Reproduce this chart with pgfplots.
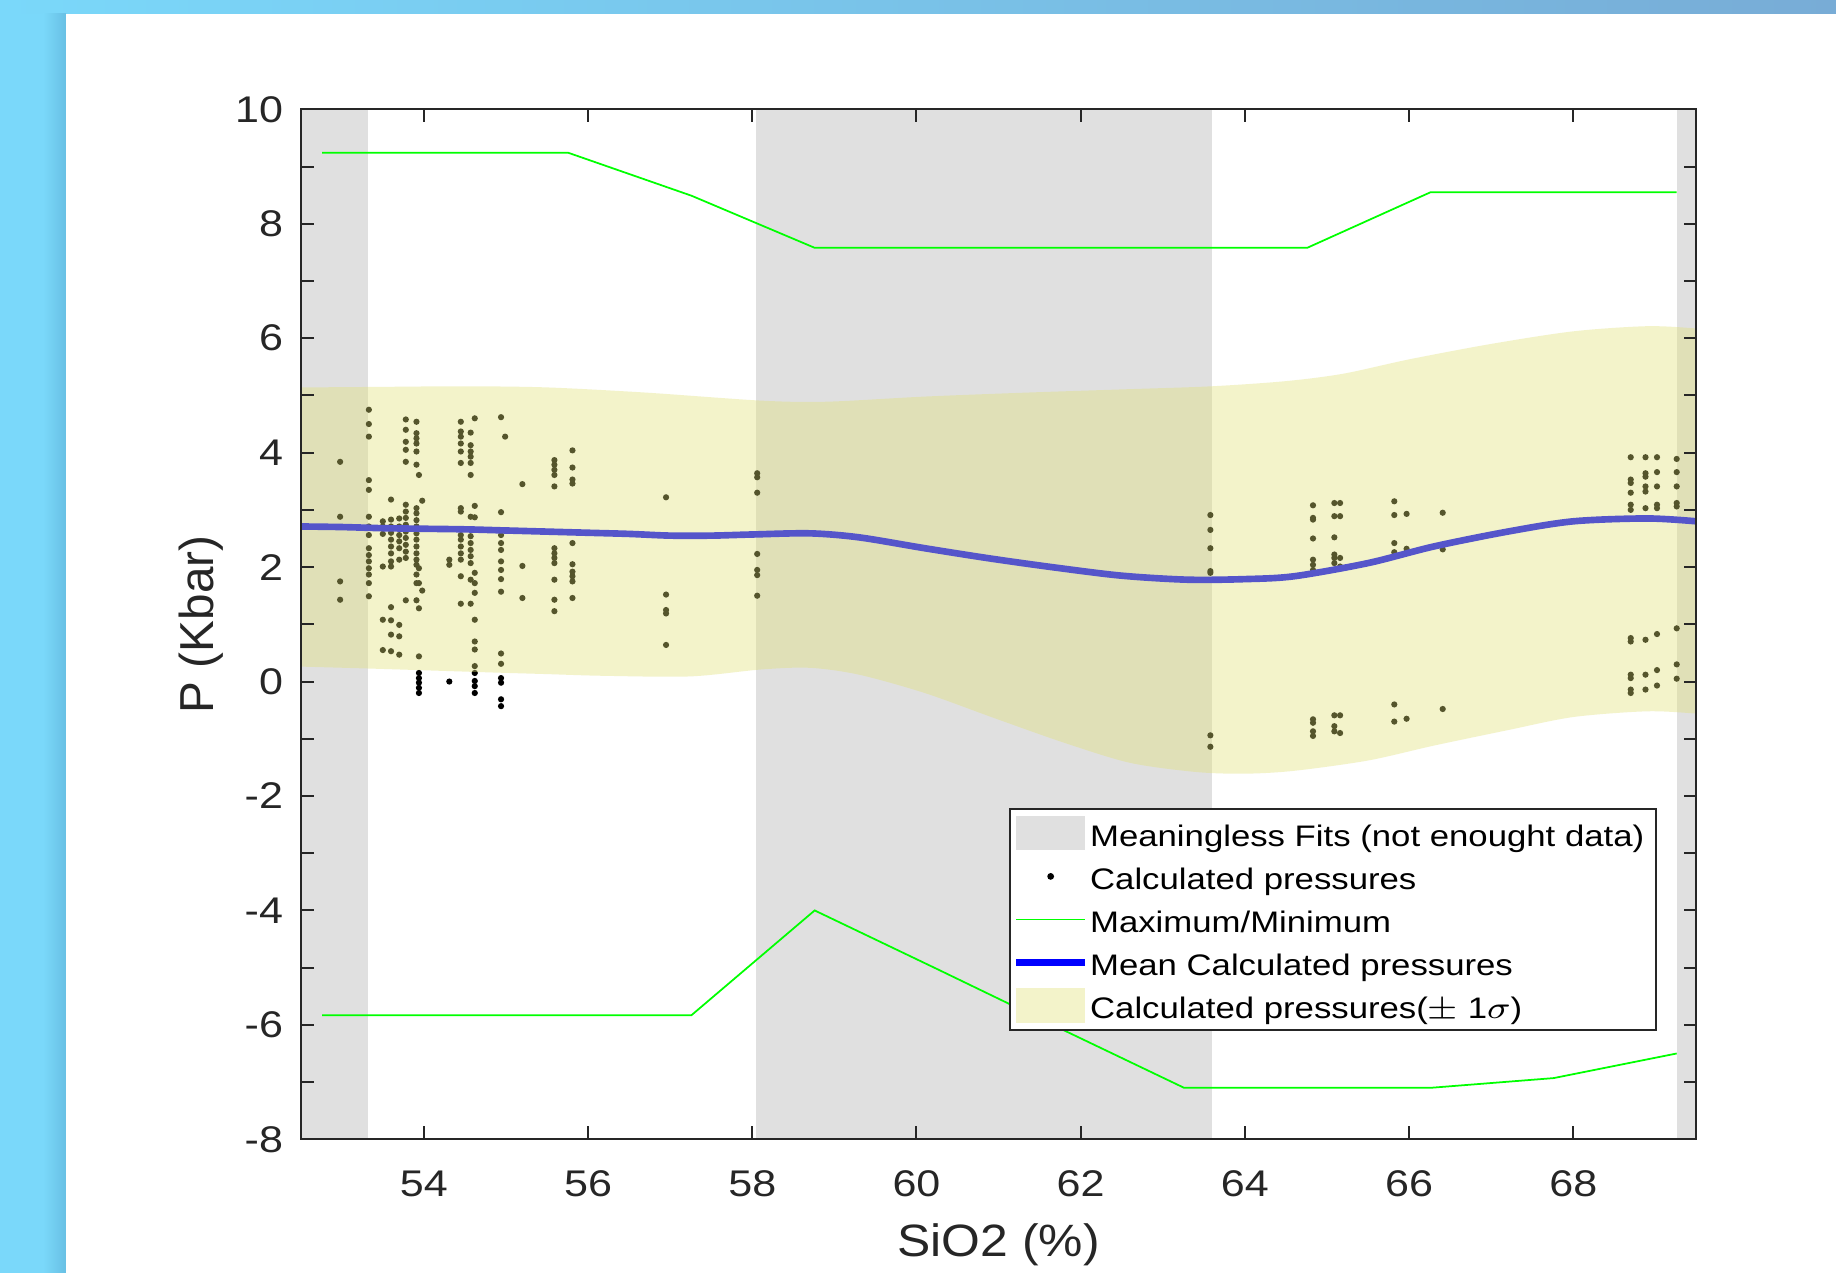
\documentclass[border=0pt]{standalone}
\usepackage{fontspec}
\setmainfont{Liberation Sans}
\usepackage{graphicx}
\usepackage{pgfplots}
\pgfplotsset{compat=1.18}
\definecolor{bgblue}{RGB}{122,216,250}
\definecolor{bgblue2}{RGB}{120,172,214}
\definecolor{bgshade}{RGB}{104,192,228}
\definecolor{axcol}{RGB}{38,38,38}
\definecolor{grayc}{RGB}{224,224,224}
\definecolor{bandc}{RGB}{224,224,118}
\definecolor{mgreen}{RGB}{0,255,0}
\definecolor{mblue}{RGB}{0,0,255}
\newcommand{\sx}[1]{\scalebox{1.16}[1]{#1}}
\newcommand{\lx}[1]{\scalebox{1.17}[1]{#1}}
\begin{document}
\begin{tikzpicture}[x=1pt,y=1pt]
\useasboundingbox (0,0) rectangle (470,325.86);
\fill[bgblue] (0,0) rectangle (470,325.86);
\shade[left color=bgblue, right color=bgblue2] (0,322.28) rectangle (470,325.86);
\shade[left color=bgblue, right color=bgshade] (11,0) rectangle (16.9,322.28);
\fill[white] (16.9,0) rectangle (470,322.28);
\begin{axis}[
  at={(76.98pt,34.2pt)}, anchor=south west,
  scale only axis, width=357.28pt, height=263.67pt,
  xmin=52.5, xmax=69.5, ymin=-8, ymax=10,
  xtick={54,56,...,68}, ytick={-8,-6,...,10},
  minor y tick num=1,
  tick align=inside,
  axis on top,
  clip marker paths=true,
  major tick length=3.3pt, minor tick length=3.3pt,
  axis line style={axcol, line width=0.5pt},
  every tick/.style={axcol, line width=0.5pt},
  /pgf/number format/assume math mode=true,
  tick label style={font=\fontsize{9.5}{11}\selectfont, text=axcol},
  xticklabel={\sx{\pgfmathprintnumber{\tick}}},
  yticklabel={\sx{\pgfmathprintnumber{\tick}}},
  xticklabel style={yshift=-4.5pt},
  yticklabel style={xshift=-1pt},
  xlabel={\scalebox{1.1}[1]{SiO2 (\%)}},
  ylabel={P (Kbar)},
  xlabel style={at={(axis description cs:0.5,-0.1024)}, anchor=center, font=\fontsize{11.6}{13}\selectfont, text=axcol},
  ylabel style={at={(axis description cs:-0.0714,0.5)}, anchor=center, font=\fontsize{12.2}{14}\selectfont, text=axcol},
  legend style={
    at={(0.5078,0.322)}, anchor=north west,
    draw=axcol, line width=0.5pt, fill=white,
    inner xsep=0.6pt, inner ysep=0.8pt,
    row sep=0pt, column sep=0.4pt,
    font=\fontsize{7.6}{9}\selectfont,
    nodes={inner sep=0pt, text height=8.9pt, text depth=2.13pt},
  },
  legend cell align=left,
]
% meaningless-fit regions
\addplot[fill=grayc, draw=none,
  legend image code/.code={\fill[grayc] (0pt,-4.4pt) rectangle (17.7pt,4.4pt);}]
  coordinates {(52.5,-8) (53.32,-8) (53.32,10) (52.5,10)} -- cycle;
\addlegendentry{\lx{Meaningless Fits (not enought data)}\rule{2.4pt}{0pt}}
\addplot[fill=grayc, draw=none, forget plot]
  coordinates {(58.05,-8) (63.6,-8) (63.6,10) (58.05,10)} -- cycle;
\addplot[fill=grayc, draw=none, forget plot]
  coordinates {(69.26,-8) (69.5,-8) (69.5,10) (69.26,10)} -- cycle;
% calculated pressures
\addplot[only marks, mark=*, mark size=0.58pt, black,
  legend image code/.code={\fill[black] (8.85pt,0pt) circle (0.6pt);}]
  coordinates {
(52.98,3.84)(52.98,2.88)(52.98,1.75)(52.98,1.43)
(53.33,4.75)(53.33,4.50)(53.33,4.28)(53.33,3.52)(53.33,3.35)(53.33,2.88)(53.33,2.71)(53.33,2.56)(53.33,2.33)(53.33,2.21)(53.33,2.10)(53.33,1.98)(53.33,1.87)(53.33,1.72)(53.33,1.49)
(53.50,2.80)(53.50,2.71)(53.50,2.58)(53.50,2.01)(53.50,1.08)(53.50,0.55)
(53.60,3.18)(53.60,2.83)(53.60,2.71)(53.60,2.60)(53.60,2.48)(53.60,2.36)(53.60,2.24)(53.60,2.10)(53.60,2.01)(53.60,1.30)(53.60,1.07)(53.60,0.82)(53.60,0.53)
(53.70,2.85)(53.70,2.71)(53.70,2.56)(53.70,2.45)(53.70,2.33)(53.70,2.13)(53.70,0.99)(53.70,0.79)(53.70,0.47)
(53.78,4.58)(53.78,4.40)(53.78,4.19)(53.78,4.05)(53.78,3.84)(53.78,3.09)(53.78,2.97)(53.78,2.86)(53.78,2.74)(53.78,2.62)(53.78,2.51)(53.78,2.39)(53.78,2.27)(53.78,2.16)(53.78,1.42)
(53.91,4.54)(53.91,4.34)(53.91,4.25)(53.91,4.16)(53.91,4.02)(53.91,3.79)(53.91,3.03)(53.91,2.94)(53.91,2.82)(53.91,2.71)(53.91,2.59)(53.91,2.48)(53.91,2.36)(53.91,2.24)(53.91,2.13)(53.91,2.04)(53.91,1.87)(53.91,1.72)(53.91,1.42)
(53.94,3.61)(53.94,1.98)(53.94,1.72)(53.94,1.28)(53.94,0.44)(53.94,0.15)(53.94,0.06)(53.94,-0.02)(53.94,-0.11)(53.94,-0.20)
(53.98,3.16)(53.98,1.59)
(54.31,2.13)(54.31,2.04)(54.31,0.00)
(54.45,4.54)(54.45,4.37)(54.45,4.28)(54.45,4.16)(54.45,4.02)(54.45,3.82)(54.45,3.03)(54.45,2.97)(54.45,2.56)(54.45,2.48)(54.45,2.36)(54.45,2.24)(54.45,2.13)(54.45,1.84)(54.45,1.36)
(54.57,4.35)(54.57,4.13)(54.57,4.02)(54.57,3.93)(54.57,3.82)(54.57,3.61)(54.57,2.88)(54.57,2.54)(54.57,2.42)(54.57,2.30)(54.57,2.19)(54.57,2.07)(54.57,1.78)(54.57,1.36)
(54.62,4.60)(54.62,3.07)(54.62,2.87)(54.62,1.90)(54.62,1.72)(54.62,1.55)(54.62,1.08)(54.62,0.70)(54.62,0.56)(54.62,0.27)(54.62,0.15)(54.62,0.01)(54.62,-0.08)(54.62,-0.20)
(54.94,4.62)(54.94,2.96)(54.94,2.56)(54.94,2.42)(54.94,2.30)(54.94,2.10)(54.94,1.95)(54.94,1.79)(54.94,1.57)(54.94,0.49)(54.94,0.31)(54.94,0.06)(54.94,-0.02)(54.94,-0.31)(54.94,-0.43)
(54.99,4.28)
(55.20,3.45)(55.20,2.02)(55.20,1.46)
(55.59,3.87)(55.59,3.79)(55.59,3.70)(55.59,3.61)(55.59,3.41)(55.59,2.33)(55.59,2.24)(55.59,2.16)(55.59,2.07)(55.59,1.78)(55.59,1.43)(55.59,1.23)
(55.81,4.04)(55.81,3.74)(55.81,3.53)(55.81,3.46)(55.81,2.42)(55.81,2.05)(55.81,1.92)(55.81,1.84)(55.81,1.75)(55.81,1.46)
(56.95,3.22)(56.95,1.52)(56.95,1.25)(56.95,1.19)(56.95,0.64)
(58.06,3.64)(58.06,3.57)(58.06,3.30)(58.06,2.23)(58.06,1.95)(58.06,1.86)(58.06,1.50)
(63.58,2.91)(63.58,2.65)(63.58,2.33)(63.58,1.93)(63.58,1.90)(63.58,-0.94)(63.58,-1.14)
(64.83,3.08)(64.83,2.86)(64.83,2.83)(64.83,2.50)(64.83,2.13)(64.83,2.04)(64.83,1.95)(64.83,-0.66)(64.83,-0.72)(64.83,-0.87)(64.83,-0.95)
(65.09,3.12)(65.09,2.89)(65.09,2.52)(65.09,2.22)(65.09,2.16)(65.09,2.07)(65.09,-0.59)(65.09,-0.78)(65.09,-0.87)
(65.16,3.12)(65.16,2.89)(65.16,2.16)(65.16,2.01)(65.16,-0.59)(65.16,-0.90)
(65.82,3.15)(65.82,2.91)(65.82,2.42)(65.82,2.26)(65.82,-0.40)(65.82,-0.70)
(65.97,2.93)(65.97,2.32)(65.97,-0.65)
(66.41,2.95)(66.41,2.31)(66.41,-0.48)
(68.70,3.92)(68.70,3.53)(68.70,3.47)(68.70,3.30)(68.70,3.09)(68.70,3.00)(68.70,0.76)(68.70,0.70)(68.70,0.12)(68.70,0.06)(68.70,-0.14)(68.70,-0.20)
(68.88,3.92)(68.88,3.64)(68.88,3.58)(68.88,3.41)(68.88,3.32)(68.88,3.03)(68.88,0.73)(68.88,0.12)(68.88,-0.14)
(69.02,3.92)(69.02,3.66)(69.02,3.41)(69.02,3.09)(69.02,3.03)(69.02,0.83)(69.02,0.20)(69.02,-0.07)
(69.26,3.89)(69.26,3.66)(69.26,3.41)(69.26,3.12)(69.26,3.06)(69.26,0.93)(69.26,0.30)(69.26,0.05)
  };
\addlegendentry{\lx{Calculated pressures}}
% maximum / minimum
\addplot[mgreen, line width=0.45pt,
  legend image code/.code={\draw (0pt,0pt) -- (17.7pt,0pt);}]
  coordinates {(52.76,9.24) (54.26,9.24) (55.76,9.24) (57.26,8.49) (58.76,7.58) (60.26,7.58) (61.76,7.58) (63.26,7.58) (64.76,7.58) (66.26,8.55) (67.76,8.55) (69.26,8.55)};
\addlegendentry{\lx{Maximum/Minimum}}
\addplot[mgreen, line width=0.45pt, forget plot]
  coordinates {(52.76,-5.83) (54.26,-5.83) (55.76,-5.83) (57.26,-5.83) (58.76,-4.00) (60.26,-5.03) (61.76,-6.07) (63.26,-7.10) (64.76,-7.10) (66.26,-7.10) (67.76,-6.93) (69.26,-6.50)};
% mean
\addplot[mblue, line width=1.7pt, smooth,
  legend image code/.code={\draw (0pt,0pt) -- (17.7pt,0pt);}]
  coordinates {(52.5,2.71) (53.0,2.70) (53.5,2.68) (54.0,2.67) (54.5,2.66) (55.0,2.64) (55.5,2.62) (56.0,2.60) (56.5,2.58) (57.0,2.55) (57.5,2.55) (58.0,2.57) (58.7,2.59) (59.3,2.52) (60.1,2.33) (60.9,2.15) (61.7,1.99) (62.5,1.85) (63.3,1.78) (64.0,1.79) (64.6,1.84) (65.5,2.07) (66.3,2.36) (67.2,2.62) (68.0,2.80) (68.9,2.85) (69.5,2.80)};
\addlegendentry{\lx{Mean Calculated pressures}}
% +/- 1 sigma band
\addplot[fill=bandc, fill opacity=0.38, draw=none, smooth,
  legend image code/.code={\fill (0pt,-4.4pt) rectangle (17.7pt,4.4pt);}]
  coordinates {(52.2,5.14) (52.53,5.14) (53.5,5.15) (54.5,5.16) (55.5,5.14) (56.7,5.05) (58.1,4.91) (58.9,4.89) (60.1,4.98) (61.35,5.05) (62.6,5.11) (63.6,5.16) (64.5,5.25) (65.2,5.38) (66.0,5.63) (67.0,5.90) (68.0,6.12) (68.9,6.21) (69.5,6.17) (69.8,6.12)
  (69.8,-0.6) (69.5,-0.56) (68.9,-0.52) (68.0,-0.62) (67.2,-0.85) (66.3,-1.12) (65.5,-1.38) (64.6,-1.56) (64.0,-1.61) (63.4,-1.58) (62.6,-1.42) (61.8,-1.07) (60.95,-0.64) (60.1,-0.2) (59.3,0.12) (58.7,0.24) (58.1,0.21) (57.25,0.09) (56.2,0.10) (55.5,0.13) (54.8,0.16) (53.5,0.22) (52.53,0.26) (52.2,0.27)} -- cycle;
\addlegendentry{\lx{Calculated pressures($\pm$ 1$\sigma$)}}
\end{axis}
\end{tikzpicture}
\end{document}
